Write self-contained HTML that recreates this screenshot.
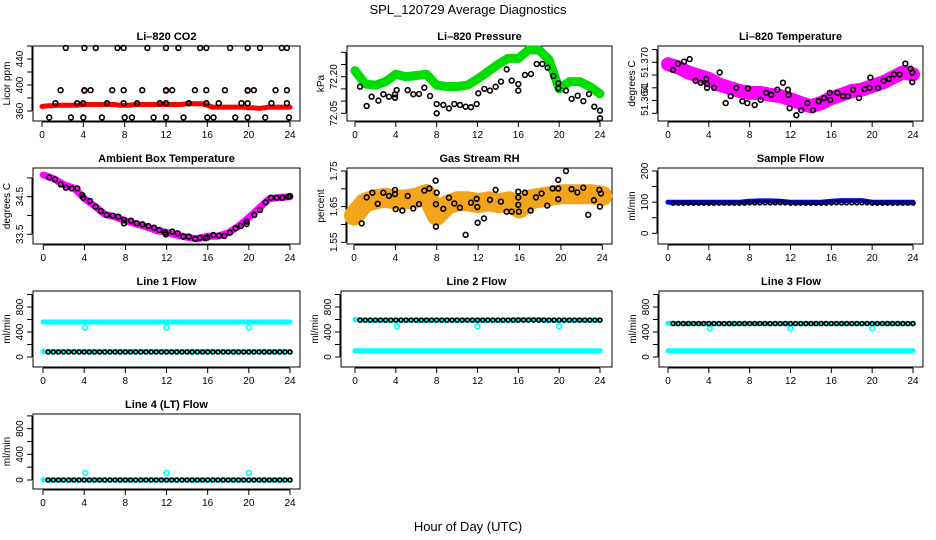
<!DOCTYPE html>
<html><head><meta charset="utf-8"><style>
body{margin:0;background:#fff}
svg{display:block;font-family:"Liberation Sans",sans-serif}
</style></head><body>
<svg id="chart" width="936" height="540" viewBox="0 0 936 540" xmlns="http://www.w3.org/2000/svg">
<text x="468" y="14" text-anchor="middle" font-size="13">SPL_120729  Average Diagnostics</text>
<text x="468" y="531" text-anchor="middle" font-size="13">Hour of Day (UTC)</text>
</svg>
<script>
// ---- data ----
const co2Red = [367,368,368,369,369,369,369,369,370,370,370,370,370,370,370,369,369,369,370,370,370,370,370,370,370,370,370,370,371,371,371,371,369,366,366,366,366,366,366,366,365,365,364,365,366,366,366,366,366];
const co2BlackHours = [2.3,4.1,5.2,7.3,7.9,10.2,12.0,13.2,15.3,15.9,18.2,19.9,21.1,23.2,23.7, 1.8,4.1,4.7,6.8,7.9,9.7,12.0,12.6,14.8,15.9,17.7,19.9,20.5,22.6,23.7, 1.3,3.4,4.0,6.3,7.9,9.2,11.4,12.0,14.2,15.9,17.1,19.3,19.9,22.2,23.7, 0.7,2.8,4.0,5.8,8.0,8.7,10.8,12.0,13.7,16.0,16.6,18.7,19.9,21.6,23.9];
const co2BlackValues = [457,457,457,457,457,457,457,457,457,457,457,457,457,457,457, 392,392,392,392,392,392,392,392,392,392,392,392,392,392,392, 372,372,372,372,372,372,372,372,372,372,372,372,372,372,372, 350,350,350,350,350,350,350,350,350,350,350,350,350,350,350];
const co2RedOutHours = [4.1,12.0,19.9];
const co2RedOutValues = [391,391,391];

const presGreen = [72.225,72.17,72.165,72.18,72.21,72.20,72.205,72.21,72.165,72.16,72.16,72.165,72.19,72.22,72.25,72.275,72.275,72.31,72.31,72.27,72.15,72.18,72.18,72.16,72.13];
const presHours = [0.49,1.14,1.63,2.29,2.78,3.33,3.92,3.92,4.08,5.16,5.71,6.27,6.79,7.35,8.0,8.0,8.65,9.21,9.73,10.29,10.84,11.36,11.92,12.08,12.67,13.22,13.78,14.30,14.86,15.35,16.0,16.0,16.65,17.24,17.80,18.35,18.87,19.43,19.92,19.92,20.67,21.22,21.81,22.37,22.92,23.44,24.0,24.0];
const presValues = [72.159,72.080,72.118,72.102,72.128,72.118,72.128,72.114,72.145,72.145,72.128,72.129,72.155,72.121,72.088,72.050,72.084,72.070,72.088,72.084,72.077,72.075,72.088,72.132,72.150,72.143,72.159,72.180,72.230,72.184,72.170,72.143,72.207,72.211,72.252,72.252,72.237,72.203,72.173,72.152,72.143,72.109,72.122,72.100,72.129,72.077,72.061,72.030];

const tempMagenta = [51.3697,51.3692,51.3684,51.3679,51.3674,51.3665,51.3660,51.3655,51.3652,51.3652,51.3649,51.3647,51.3642,51.3636,51.3631,51.3636,51.3644,51.3649,51.3655,51.3657,51.3663,51.3668,51.3676,51.3684,51.3681];
const tempHours = [0.49,0.98,1.57,2.12,2.71,3.20,3.75,3.82,3.82,4.51,5.06,5.65,6.14,6.69,7.28,7.77,7.84,8.49,9.08,9.63,10.12,10.71,11.26,11.75,11.82,11.92,12.57,13.06,13.65,14.20,14.76,15.28,15.84,15.90,16.59,17.14,17.63,18.12,18.71,19.27,19.75,19.82,20.57,21.13,21.65,22.14,22.69,23.25,23.77,23.93,23.93];
const tempValues = [51.3688,51.3698,51.3701,51.3705,51.3671,51.3668,51.3674,51.3666,51.3660,51.3660,51.3684,51.3636,51.3647,51.3660,51.3639,51.3636,51.3659,51.3633,51.3641,51.3652,51.3649,51.3657,51.3668,51.3657,51.3649,51.3628,51.3617,51.3625,51.3636,51.3625,51.3639,51.3644,51.3652,51.3641,51.3652,51.3647,51.3647,51.3657,51.3644,51.3658,51.3660,51.3676,51.3660,51.3671,51.3674,51.3681,51.3681,51.3698,51.3690,51.3684,51.3669];

const ambMagenta = [35.08,34.98,34.82,34.73,34.45,34.25,34.03,33.96,33.86,33.78,33.70,33.60,33.55,33.48,33.42,33.38,33.45,33.45,33.54,33.72,33.95,34.20,34.45,34.48,34.50];
const ambHours = [0.58,1.14,1.69,2.21,2.76,3.31,3.79,3.89,4.54,5.09,5.61,6.16,6.75,7.30,7.85,7.85,8.53,9.08,9.66,10.22,10.77,11.29,11.84,11.93,12.55,13.07,13.62,14.17,14.76,15.24,15.79,15.96,16.54,17.09,17.61,18.16,18.71,19.23,19.78,19.78,20.53,21.08,21.63,22.15,22.70,23.25,23.84,24.0];
const ambValues = [35.013,34.960,34.827,34.739,34.721,34.721,34.544,34.473,34.385,34.235,34.119,34.013,33.996,33.969,33.881,33.792,33.863,33.792,33.765,33.721,33.677,33.615,33.553,33.500,33.571,33.527,33.438,33.438,33.376,33.412,33.394,33.412,33.482,33.465,33.456,33.544,33.659,33.721,33.836,33.774,34.013,34.146,34.350,34.473,34.473,34.473,34.500,34.518];

const rhOrange = [1.625,1.66,1.67,1.675,1.67,1.67,1.675,1.685,1.625,1.655,1.665,1.665,1.66,1.665,1.66,1.665,1.645,1.67,1.675,1.68,1.685,1.685,1.685,1.685,1.68];
const rhHours = [0.74,1.22,1.77,2.29,2.83,3.38,3.96,3.96,4.03,4.67,5.19,5.73,6.28,6.80,7.28,7.89,7.92,7.92,7.99,8.63,9.18,9.70,10.24,10.79,11.31,11.85,11.92,11.95,12.56,13.14,13.69,14.20,14.75,15.24,15.88,15.88,15.88,15.94,16.52,17.07,17.59,18.13,18.68,19.20,19.74,19.74,19.74,20.49,21.03,21.58,22.16,22.64,23.19,23.71,23.77,23.87];
const rhValues = [1.603,1.676,1.689,1.658,1.689,1.680,1.685,1.697,1.643,1.639,1.680,1.645,1.657,1.695,1.701,1.723,1.657,1.594,1.689,1.644,1.675,1.659,1.647,1.571,1.661,1.672,1.649,1.605,1.617,1.669,1.697,1.664,1.636,1.636,1.692,1.676,1.655,1.636,1.689,1.639,1.676,1.687,1.653,1.701,1.725,1.701,1.671,1.750,1.699,1.690,1.703,1.627,1.668,1.697,1.650,1.687];

const hourly = [0,1,2,3,4,5,6,7,8,9,10,11,12,13,14,15,16,17,18,19,20,21,22,23,24];
const halfHours = [0.5,1,1.5,2,2.5,3,3.5,4,4.5,5,5.5,6,6.5,7,7.5,8,8.5,9,9.5,10,10.5,11,11.5,12,12.5,13,13.5,14,14.5,15,15.5,16,16.5,17,17.5,18,18.5,19,19.5,20,20.5,21,21.5,22,22.5,23,23.5,24];
const co2RedHours = [0,0.5,1,1.5,2,2.5,3,3.5,4,4.5,5,5.5,6,6.5,7,7.5,8,8.5,9,9.5,10,10.5,11,11.5,12,12.5,13,13.5,14,14.5,15,15.5,16,16.5,17,17.5,18,18.5,19,19.5,20,20.5,21,21.5,22,22.5,23,23.5,24];

const sampleBlue = [100,100,100,100,100,100,100,100,103,104,104,103,100,100,100,100,103,105,105,105,100,100,100,100,100];
const sampleBlack = [97,97,97,97,97,97,97,97,97,97,97,97,97,97,97,98,98,98,98,98,98,98,98,97,97,97,97,97,97,97,97,98,98,98,98,98,98,98,98,97,97,97,97,97,97,97,97,97];

const line1CyanHigh = [560,560,560,560,560,560,560,560,560,560,560,560,560,560,560,560,560,560,560,560,560,560,560,560,560];
const line1CyanLow = [90,90,90,90,90,90,90,90,90,90,90,90,90,90,90,90,90,90,90,90,90,90,90,90,90];
const line1Black = [80,80,80,80,80,80,80,80,80,80,80,80,80,80,80,80,80,80,80,80,80,80,80,80,80,80,80,80,80,80,80,80,80,80,80,80,80,80,80,80,80,80,80,80,80,80,80,80];
const line2CyanHigh = [600,590,590,590,590,590,590,590,590,590,590,590,590,590,590,590,600,600,600,590,590,590,590,590,590];
const line2CyanLow = [100,100,100,100,100,100,100,100,100,100,100,100,100,100,100,100,100,100,100,100,100,100,100,100,100];
const line2Black = [590,590,590,590,590,590,590,590,590,590,590,590,590,590,590,590,590,590,590,590,590,590,590,590,590,590,590,590,590,590,590,590,590,590,590,590,590,590,590,590,590,590,590,590,590,590,590,590];
const line3CyanHigh = [540,535,535,535,535,535,535,535,535,535,535,535,535,535,535,535,535,535,535,535,535,535,535,535,535];
const line3CyanLow = [100,100,100,100,100,100,100,100,100,100,100,100,100,100,100,100,100,100,100,100,100,100,100,100,100];
const line3Black = [535,535,535,535,535,535,535,535,535,535,535,535,535,535,535,535,535,535,535,535,535,535,535,535,535,535,535,535,535,535,535,535,535,535,535,535,535,535,535,535,535,535,535,535,535,535,535,535];
const line4Cyan = [5,0,0,0,0,0,0,0,0,0,0,0,0,0,0,0,0,0,0,0,0,0,0,0,0];
const line4Black = [0,0,0,0,0,0,0,0,0,0,0,0,0,0,0,0,0,0,0,0,0,0,0,0,0,0,0,0,0,0,0,0,0,0,0,0,0,0,0,0,0,0,0,0,0,0,0,0];
const outlierHours = [4.1,12.0,20.0];
const line1Out = [470,470,470];
const line2Out = [490,490,490];
const line3Out = [460,460,460];
const line4Out = [110,110,110];
const xTicks = [0,4,8,12,16,20,24];

// ---- drawing ----
const NS = "http://www.w3.org/2000/svg";
const svg = document.getElementById("chart");
function mk(tag, attrs, parent){ const e=document.createElementNS(NS,tag); for(const k in attrs) e.setAttribute(k,attrs[k]); (parent||svg).appendChild(e); return e; }

function panel(c){
  const g = mk("g",{});
  
  
  const sx = h => c.x0 + h/24*(c.x24-c.x0);
  const sy = v => c.p1 + (v-c.v1)*(c.p2-c.p1)/(c.v2-c.v1);
  const t = mk("text",{x:(c.l+c.r)/2,y:c.t-6,"text-anchor":"middle","font-size":"11","font-weight":"bold"},g);
  t.textContent = c.title;
  
  
  const fr = mk("rect",{x:c.l,y:c.t,width:c.r-c.l,height:c.b-c.t,fill:"none",stroke:"#000","stroke-width":"1"},g);
  
  
  // x axis
  const xa = mk("g",{},g);
  
  
  mk("line",{x1:sx(0),x2:sx(24),y1:c.b+1,y2:c.b+1,stroke:"#000"},xa);
  xTicks.forEach(h=>{
    mk("line",{x1:sx(h),x2:sx(h),y1:c.b+1,y2:c.b+6,stroke:"#000"},xa);
    const lt = mk("text",{x:sx(h),y:c.b+17,"text-anchor":"middle","font-size":"10"},xa);
    lt.textContent = h;
    
    
  });
  // y axis
  const ya = mk("g",{},g);
  
  
  mk("line",{x1:c.l-1,x2:c.l-1,y1:sy(c.ticks[0]),y2:sy(c.ticks[c.ticks.length-1]),stroke:"#000"},ya);
  c.ticks.forEach((v,i)=>{
    mk("line",{x1:c.l-6,x2:c.l-1,y1:sy(v),y2:sy(v),stroke:"#000"},ya);
    if(c.labels[i]){
      const yl = mk("text",{x:0,y:0,transform:`translate(${c.l-10},${sy(v)}) rotate(-90)`,"text-anchor":"middle","font-size":"10"},ya);
      yl.textContent = c.labels[i];
      
      
    }
  });
  const yt = mk("text",{x:0,y:0,transform:`translate(${c.l-23},${(c.t+c.b)/2}) rotate(-90)`,"text-anchor":"middle","font-size":"10"},g);
  yt.textContent = c.ylab;
  
  
  const area = mk("g",{},g);
  
  
  return {sx,sy,g:area};
}
function band(P, hours, vals, color, w, name){
  const pts = hours.map((h,i)=>P.sx(h).toFixed(1)+","+P.sy(vals[i]).toFixed(1)).join(" ");
  const pl = mk("polyline",{points:pts,fill:"none",stroke:color,"stroke-width":w,"stroke-linejoin":"round","stroke-linecap":"round"},P.g);
  
  
}
function dots(P, hours, vals, color, name, r){
  hours.forEach((h,i)=>{
    const ci = mk("circle",{cx:P.sx(h),cy:P.sy(vals[i]),r:r||2.4,fill:"none",stroke:color,"stroke-width":"1.6"},P.g);
    
    
  });
}

// CO2
let P = panel({name:"co2-panel",title:"Li\u2013820 CO2",ylab:"Licor ppm",l:33,t:46,r:300,b:121,x0:42,x24:290,v1:360,p1:111,v2:440,p2:59,ticks:[360,380,400,420,440,460],labels:["360","","400","","440",""]});
band(P, co2RedHours, co2Red, "#ff0000", 5, "co2-raw-band");
dots(P, co2RedOutHours, co2RedOutValues, "#ff0000", "co2-raw-point");
dots(P, co2BlackHours, co2BlackValues, "#000", "co2-avg-point");

// Pressure
P = panel({name:"pressure-panel",title:"Li\u2013820 Pressure",ylab:"kPa",l:347,t:46,r:612,b:121,x0:355,x24:600,v1:72.05,p1:113.3,v2:72.20,p2:76.7,ticks:[72.05,72.10,72.15,72.20,72.25,72.30],labels:["72.05","","","72.20","",""]});
band(P, hourly, presGreen, "#00dd00", 9, "pressure-raw-band");
dots(P, presHours, presValues, "#000", "pressure-avg-point");

// Temperature
P = panel({name:"li820-temp-panel",title:"Li\u2013820 Temperature",ylab:"degrees C",l:658,t:46,r:923,b:121,x0:668,x24:913,v1:51.362,p1:113.3,v2:51.370,p2:62.3,ticks:[51.362,51.364,51.366,51.368,51.370,51.372],labels:["","51.364","51","","51.370",""]});
band(P, hourly, tempMagenta, "#ff00ff", 14, "li820-temp-raw-band");
dots(P, tempHours, tempValues, "#000", "li820-temp-avg-point");

// Ambient
P = panel({name:"ambient-temp-panel",title:"Ambient Box Temperature",ylab:"degrees C",l:33,t:168,r:300,b:244,x0:43.3,x24:290,v1:33.5,p1:234.3,v2:34.5,p2:196.7,ticks:[33.5,34.0,34.5,35.0],labels:["33.5","","34.5",""]});
band(P, hourly, ambMagenta, "#ff00ff", 7, "ambient-temp-raw-band");
dots(P, ambHours, ambValues, "#000", "ambient-temp-avg-point");

// RH
P = panel({name:"rh-panel",title:"Gas Stream RH",ylab:"percent",l:347,t:168,r:612,b:244,x0:354,x24:602.3,v1:1.55,p1:242.3,v2:1.75,p2:171,ticks:[1.55,1.60,1.65,1.70,1.75],labels:["1.55","","1.65","","1.75"]});
band(P, hourly, rhOrange, "#f2a41a", 20, "rh-raw-band");
dots(P, rhHours, rhValues, "#000", "rh-avg-point");

// Sample flow
P = panel({name:"sample-flow-panel",title:"Sample Flow",ylab:"ml/min",l:658,t:168,r:923,b:244,x0:668,x24:913,v1:0,p1:233.3,v2:200,p2:171,ticks:[0,50,100,150,200],labels:["0","","100","","200"]});
band(P, hourly, sampleBlue, "#0000ff", 5, "sample-flow-raw-band");
dots(P, halfHours, sampleBlack, "#000", "sample-flow-avg-point", 2);

// Line 1
P = panel({name:"line1-flow-panel",title:"Line 1 Flow",ylab:"ml/min",l:33,t:291,r:300,b:367,x0:43,x24:290,v1:0,p1:357,v2:800,p2:307,ticks:[0,200,400,600,800,1000],labels:["0","","400","","800",""]});
band(P, hourly, line1CyanHigh, "#00ffff", 5, "line1-high-band");
band(P, hourly, line1CyanLow, "#00ffff", 5, "line1-low-band");
dots(P, outlierHours, line1Out, "#00ffff", "line1-outlier");
dots(P, halfHours, line1Black, "#000", "line1-avg-point", 2);

// Line 2
P = panel({name:"line2-flow-panel",title:"Line 2 Flow",ylab:"ml/min",l:341,t:291,r:612,b:367,x0:355,x24:600,v1:0,p1:357,v2:800,p2:307,ticks:[0,200,400,600,800,1000],labels:["0","","400","","800",""]});
band(P, hourly, line2CyanHigh, "#00ffff", 5, "line2-high-band");
band(P, hourly, line2CyanLow, "#00ffff", 5, "line2-low-band");
dots(P, outlierHours, line2Out, "#00ffff", "line2-outlier");
dots(P, halfHours, line2Black, "#000", "line2-avg-point", 2);

// Line 3
P = panel({name:"line3-flow-panel",title:"Line 3 Flow",ylab:"ml/min",l:659,t:291,r:923,b:367,x0:668,x24:913,v1:0,p1:357,v2:800,p2:307,ticks:[0,200,400,600,800,1000],labels:["0","","400","","800",""]});
band(P, hourly, line3CyanHigh, "#00ffff", 5, "line3-high-band");
band(P, hourly, line3CyanLow, "#00ffff", 5, "line3-low-band");
dots(P, outlierHours, line3Out, "#00ffff", "line3-outlier");
dots(P, halfHours, line3Black, "#000", "line3-avg-point", 2);

// Line 4
P = panel({name:"line4-flow-panel",title:"Line 4 (LT) Flow",ylab:"ml/min",l:33,t:414,r:300,b:489,x0:43,x24:290,v1:0,p1:480,v2:800,p2:428.7,ticks:[0,200,400,600,800,1000],labels:["0","","400","","800",""]});
band(P, hourly, line4Cyan, "#00ffff", 5, "line4-band");
dots(P, outlierHours, line4Out, "#00ffff", "line4-outlier");
dots(P, halfHours, line4Black, "#000", "line4-avg-point", 2);
</script>
</body></html>
